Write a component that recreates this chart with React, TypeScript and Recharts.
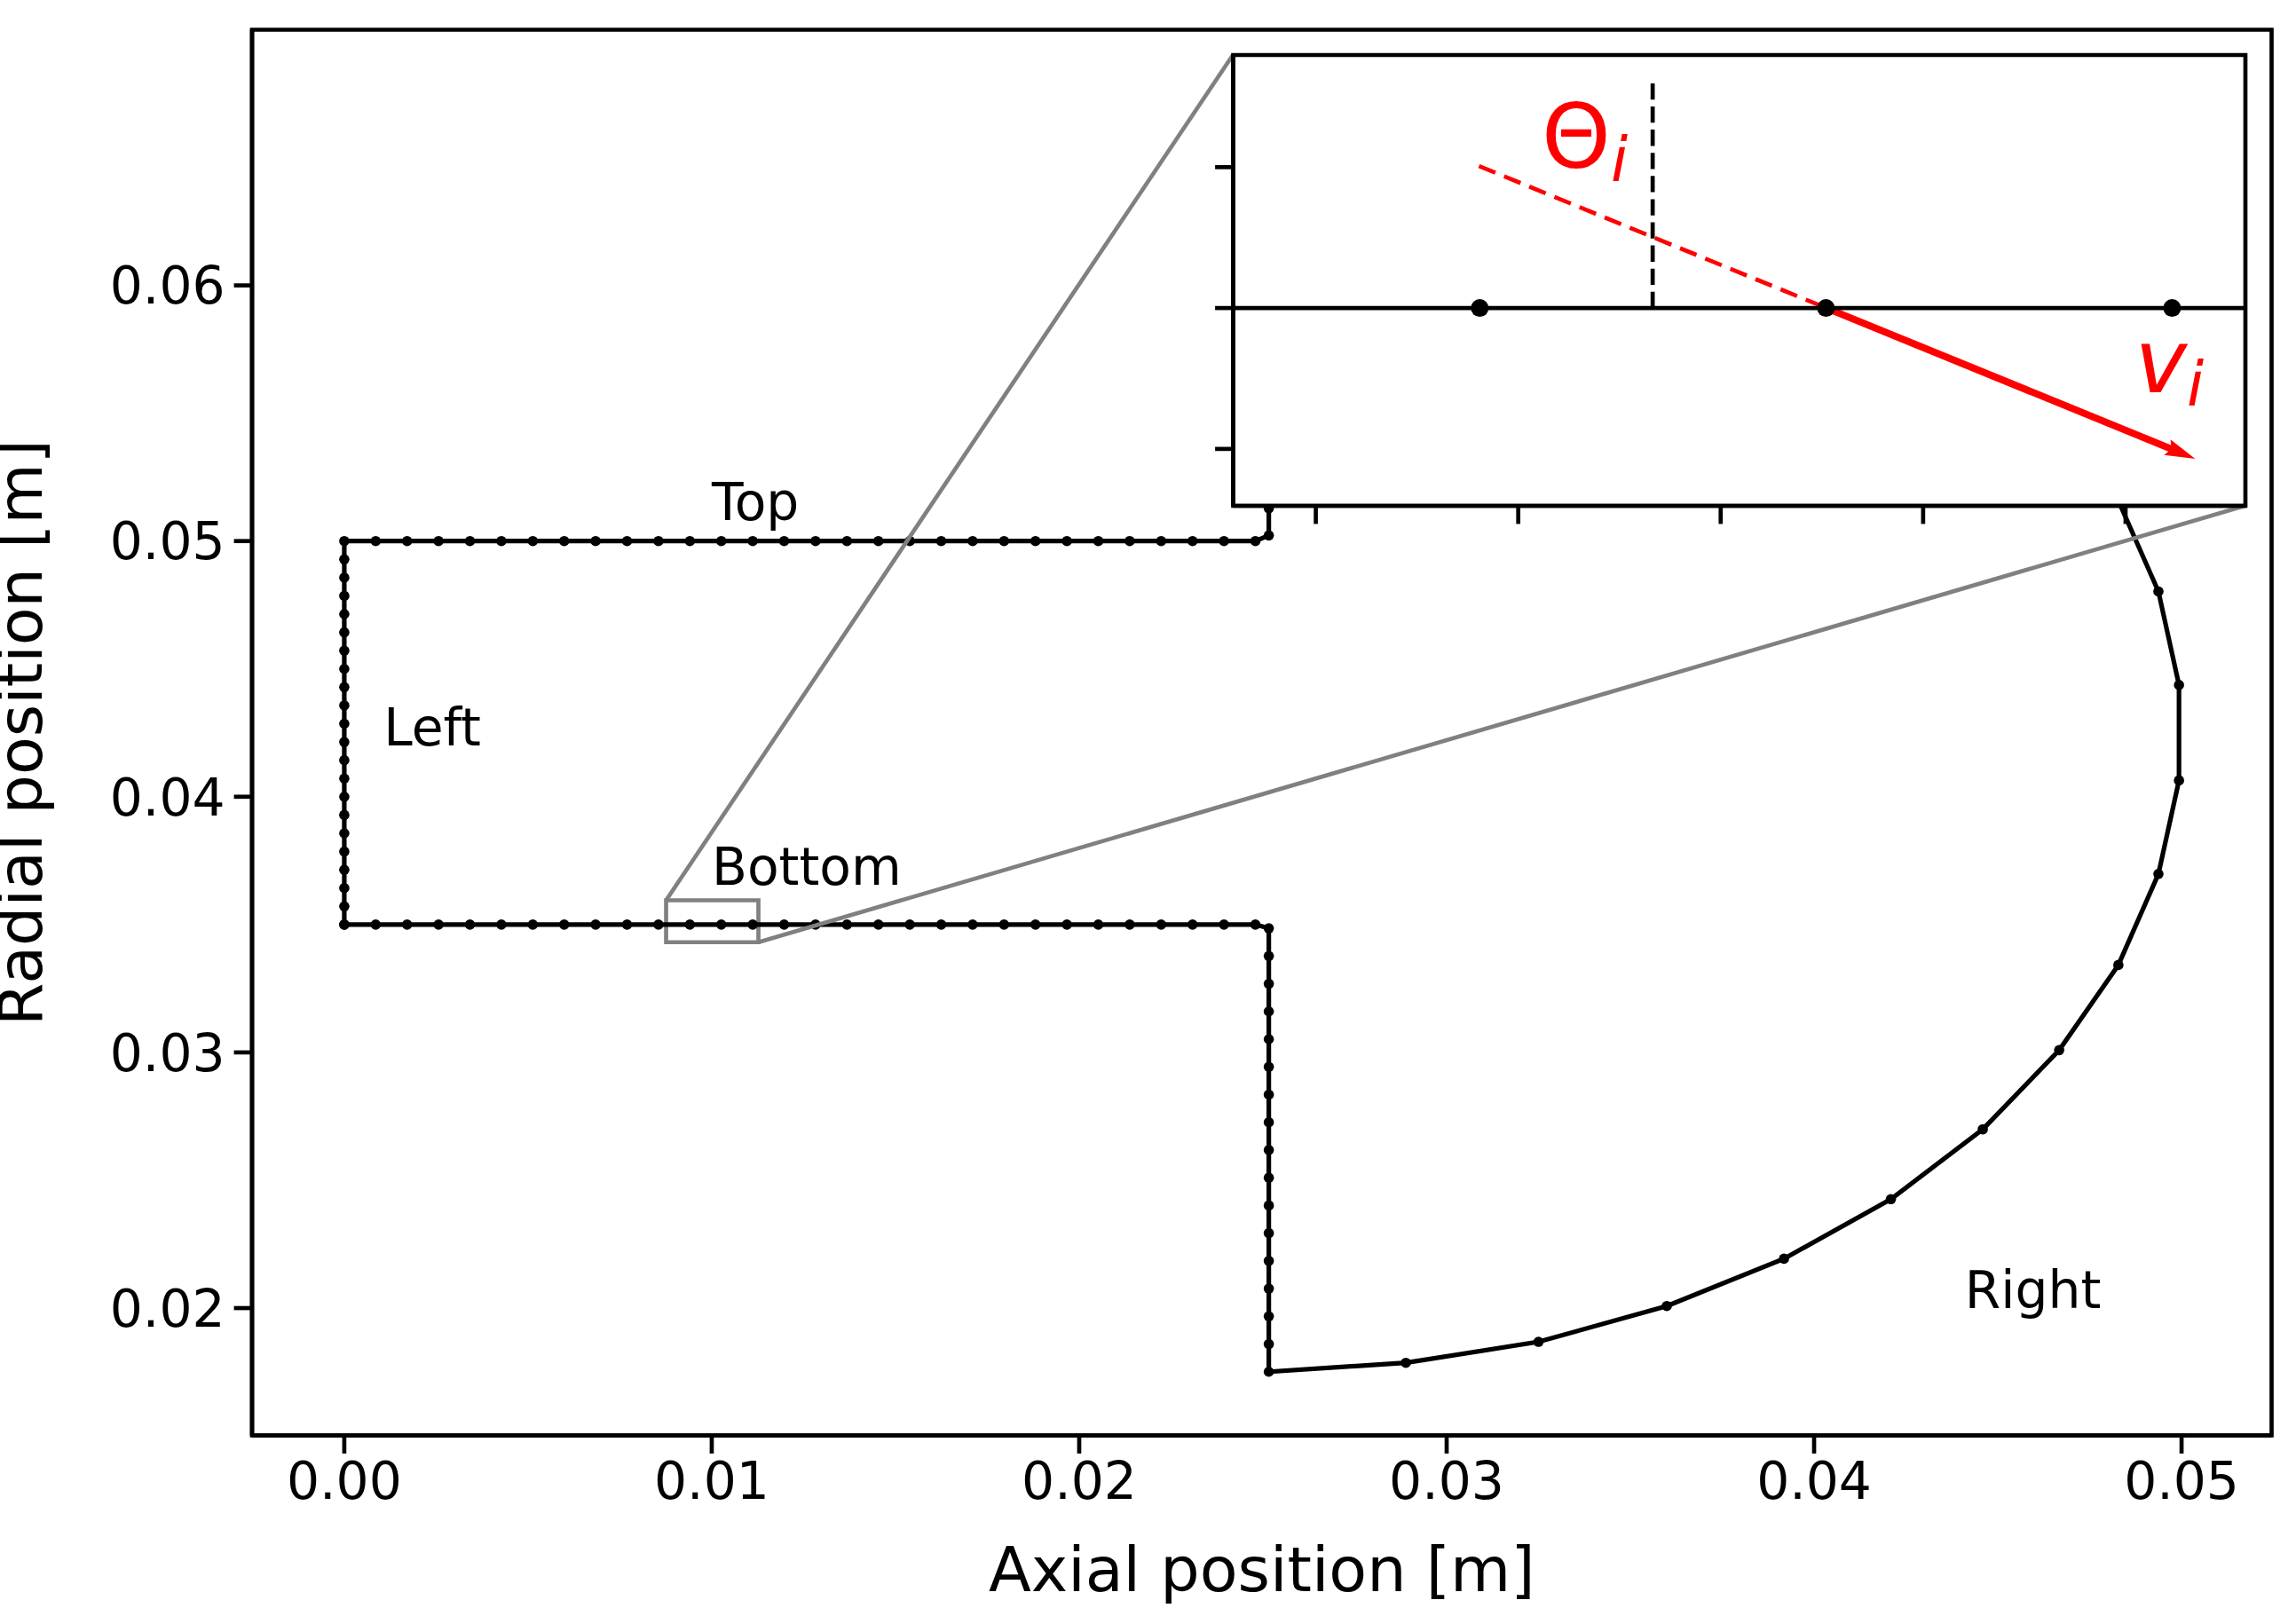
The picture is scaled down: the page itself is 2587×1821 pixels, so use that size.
import React from "react";
import { ScatterChart, Scatter, XAxis, YAxis, ReferenceArea } from "recharts";

const FONT = "'DejaVu Sans', sans-serif";

// Boundary contour, in metres
const leftEdgeY = [0.035, 0.035714, 0.036429, 0.037143, 0.037857, 0.038571, 0.039286, 0.04, 0.040714, 0.041429, 0.042143, 0.042857, 0.043571, 0.044286, 0.045, 0.045714, 0.046429, 0.047143, 0.047857, 0.048571, 0.049286, 0.05];
const horizontalEdgeX = [0, 0.000855, 0.00171, 0.002565, 0.00342, 0.004275, 0.00513, 0.005985, 0.00684, 0.007695, 0.00855, 0.009405, 0.01026, 0.011115, 0.01197, 0.012825, 0.01368, 0.014535, 0.01539, 0.016245, 0.0171, 0.017955, 0.01881, 0.019665, 0.02052, 0.021375, 0.02223, 0.023085, 0.02394, 0.024795];
const stepX = 0.02516;
const upperStepY = [0.05022, 0.05128, 0.05236, 0.05344, 0.05453, 0.05561, 0.05669, 0.05777, 0.05886, 0.05994, 0.06102, 0.06211, 0.06319, 0.06427, 0.06536, 0.06644, 0.06749];
const lowerStepY = [0.01751, 0.018594, 0.019678, 0.020762, 0.021846, 0.02293, 0.024014, 0.025098, 0.026182, 0.027266, 0.02835, 0.029434, 0.030518, 0.031602, 0.032686, 0.03377, 0.034854];
const arcX = [0.02889, 0.0325, 0.03599, 0.03918, 0.04209, 0.04459, 0.04667, 0.04828, 0.04937, 0.04993, 0.04993, 0.04937, 0.04828, 0.04667, 0.04459, 0.04209, 0.03918, 0.03599, 0.0325, 0.02889];
const arcY = [0.06714, 0.06632, 0.06492, 0.06307, 0.06074, 0.05801, 0.05491, 0.05158, 0.04803, 0.04437, 0.04064, 0.03698, 0.03342, 0.03009, 0.02699, 0.02426, 0.02193, 0.02008, 0.01868, 0.01786];

const contour = [
  ...leftEdgeY.map((y) => ({ x: 0, y })),
  ...horizontalEdgeX.slice(1).map((x) => ({ x, y: 0.05 })),
  ...upperStepY.map((y) => ({ x: stepX, y })),
  ...arcX.map((x, i) => ({ x, y: arcY[i] })),
  ...lowerStepY.map((y) => ({ x: stepX, y })),
  ...horizontalEdgeX.slice(1).reverse().map((x) => ({ x, y: 0.035 })),
  { x: 0, y: 0.035 },
];

// Main axes
const mainXDomain = [-0.00251, 0.05245];
const mainYDomain = [0.01502, 0.07];
const mainXTicks = [0, 0.01, 0.02, 0.03, 0.04, 0.05];
const mainYTicks = [0.02, 0.03, 0.04, 0.05, 0.06];

// Inset axes
const insetXDomain = [0.008796, 0.011296];
const insetYDomain = [0.034298, 0.035898];
const insetXTicks = [0.009, 0.0095, 0.01, 0.0105, 0.011];
const insetYTicks = [0.0345, 0.035, 0.0355];

// Inset indicator: box and the two connectors
const upperConnector = [{ x: 0.008758, y: 0.03595 }, { x: 0.02419, y: 0.06903 }];
const lowerConnector = [{ x: 0.01127, y: 0.03431 }, { x: 0.05174, y: 0.05139 }];

// Inset construction lines
const normalLine = [{ x: 0.009832, y: 0.035 }, { x: 0.009832, y: 0.035797 }];
const extension = [{ x: 0.009403, y: 0.035504 }, { x: 0.010261, y: 0.035 }];
const velocityShaft = [{ x: 0.010261, y: 0.035 }, { x: 0.011125, y: 0.034493 }];
const velocityTip = [{ x: 0.011172, y: 0.034465 }];

const mainLabels = [
  { x: 0.01, y: 0.05083, text: "Top" },
  { x: 0.00107, y: 0.04201, text: "Left" },
  { x: 0.01, y: 0.03655, text: "Bottom" },
  { x: 0.0441, y: 0.02, text: "Right" },
];
const insetLabels = [
  { x: 0.009558, y: 0.035498, base: "Θ", italic: false, sub: "i" },
  { x: 0.011023, y: 0.034702, base: "v", italic: true, sub: "i" },
];

const noDot = () => <g />;
const dot = (r: number) => (p: any) => <circle cx={p.cx} cy={p.cy} r={r} fill="#000" />;
const textMark = (p: any) => (
  <text x={p.cx} y={p.cy} fontFamily={FONT} fontSize={58.3} fill="#000">{p.payload.text}</text>
);
const mathMark = (p: any) => (
  <text x={p.cx} y={p.cy} fontFamily={FONT} fontSize={99} fill="#f00">
    <tspan fontStyle={p.payload.italic ? "italic" : "normal"}>{p.payload.base}</tspan>
    <tspan fontStyle="italic" fontSize={69} dy={15}>{p.payload.sub}</tspan>
  </text>
);
const arrowHead = (p: any) => (
  <polygon
    points="0,0 -34,-9.5 -29,0 -34,9.5"
    transform={`translate(${p.cx},${p.cy}) rotate(22.3)`}
    fill="#f00"
  />
);

const tickStyle = { fontFamily: FONT, fontSize: 58.3, fill: "#000" };
const frameStroke = 4.67;

export default function App() {
  return (
    <div style={{ position: "absolute", left: 0, top: 0, width: 2587, height: 1821, background: "#fff", overflow: "hidden" }}>
      <div style={{ position: "absolute", left: 0, top: 0 }}>
        <ScatterChart width={2587} height={1821} margin={{ left: 0, right: 27.5, top: 33.5, bottom: 0 }}>
          <XAxis
            type="number"
            dataKey="x"
            domain={mainXDomain}
            ticks={mainXTicks}
            allowDataOverflow
            interval={0}
            height={203.5}
            tickSize={20.4}
            tickMargin={10}
            tick={tickStyle}
            tickLine={{ stroke: "#000", strokeWidth: frameStroke }}
            axisLine={{ stroke: "#000", strokeWidth: frameStroke }}
            tickFormatter={(v: number) => v.toFixed(2)}
            label={{ value: "Axial position [m]", position: "insideBottom", offset: 28, style: { fontFamily: FONT, fontSize: 70, fill: "#000" } }}
          />
          <YAxis
            type="number"
            dataKey="y"
            domain={mainYDomain}
            ticks={mainYTicks}
            allowDataOverflow
            interval={0}
            width={284}
            tickSize={20.4}
            tickMargin={10}
            tick={tickStyle}
            tickLine={{ stroke: "#000", strokeWidth: frameStroke }}
            axisLine={{ stroke: "#000", strokeWidth: frameStroke }}
            tickFormatter={(v: number) => v.toFixed(2)}
            label={{ value: "Radial position [m]", angle: -90, position: "insideLeft", offset: 22, style: { fontFamily: FONT, fontSize: 70, fill: "#000", textAnchor: "middle" } }}
          />
          <Scatter data={contour} isAnimationActive={false} line={{ stroke: "#000", strokeWidth: 5.2 }} shape={dot(5.8)} />
          <Scatter data={upperConnector} isAnimationActive={false} line={{ stroke: "#808080", strokeWidth: 4.67 }} shape={noDot} />
          <Scatter data={lowerConnector} isAnimationActive={false} line={{ stroke: "#808080", strokeWidth: 4.67 }} shape={noDot} />
          <ReferenceArea x1={upperConnector[0].x} x2={lowerConnector[0].x} y1={lowerConnector[0].y} y2={upperConnector[0].y} fill="none" stroke="#808080" strokeWidth={4.67} />
          <ReferenceArea x1={mainXDomain[0]} x2={mainXDomain[1]} y1={mainYDomain[0]} y2={mainYDomain[1]} fill="none" stroke="#000" strokeWidth={frameStroke} />
          <Scatter data={mainLabels} isAnimationActive={false} shape={textMark} />
        </ScatterChart>
      </div>
      <div style={{ position: "absolute", left: 1389.5, top: 62, width: 1140.5, height: 508, background: "#fff" }} />
      <div style={{ position: "absolute", left: 0, top: 0 }}>
        <ScatterChart width={2587} height={1821} margin={{ left: 1339.5, right: 57, top: 62, bottom: 1201 }}>
          <XAxis
            type="number"
            dataKey="x"
            domain={insetXDomain}
            ticks={insetXTicks}
            allowDataOverflow
            interval={0}
            height={50}
            tickSize={20.4}
            tick={tickStyle}
            tickLine={{ stroke: "#000", strokeWidth: frameStroke }}
            axisLine={{ stroke: "#000", strokeWidth: frameStroke }}
            tickFormatter={() => ""}
          />
          <YAxis
            type="number"
            dataKey="y"
            domain={insetYDomain}
            ticks={insetYTicks}
            allowDataOverflow
            interval={0}
            width={50}
            tickSize={20.4}
            tick={tickStyle}
            tickLine={{ stroke: "#000", strokeWidth: frameStroke }}
            axisLine={{ stroke: "#000", strokeWidth: frameStroke }}
            tickFormatter={() => ""}
          />
          <Scatter data={normalLine} isAnimationActive={false} line={{ stroke: "#000", strokeWidth: 4.7, strokeDasharray: "18.3 7.8" }} shape={noDot} />
          <Scatter data={extension} isAnimationActive={false} line={{ stroke: "#f00", strokeWidth: 4.7, strokeDasharray: "20 10.6" }} shape={noDot} />
          <Scatter data={velocityShaft} isAnimationActive={false} line={{ stroke: "#f00", strokeWidth: 8 }} shape={noDot} />
          <Scatter data={velocityTip} isAnimationActive={false} shape={arrowHead} />
          <Scatter data={contour} isAnimationActive={false} line={{ stroke: "#000", strokeWidth: 4.7 }} shape={dot(10)} />
          <ReferenceArea x1={insetXDomain[0]} x2={insetXDomain[1]} y1={insetYDomain[0]} y2={insetYDomain[1]} fill="none" stroke="#000" strokeWidth={frameStroke} />
          <Scatter data={insetLabels} isAnimationActive={false} shape={mathMark} />
        </ScatterChart>
      </div>
    </div>
  );
}
